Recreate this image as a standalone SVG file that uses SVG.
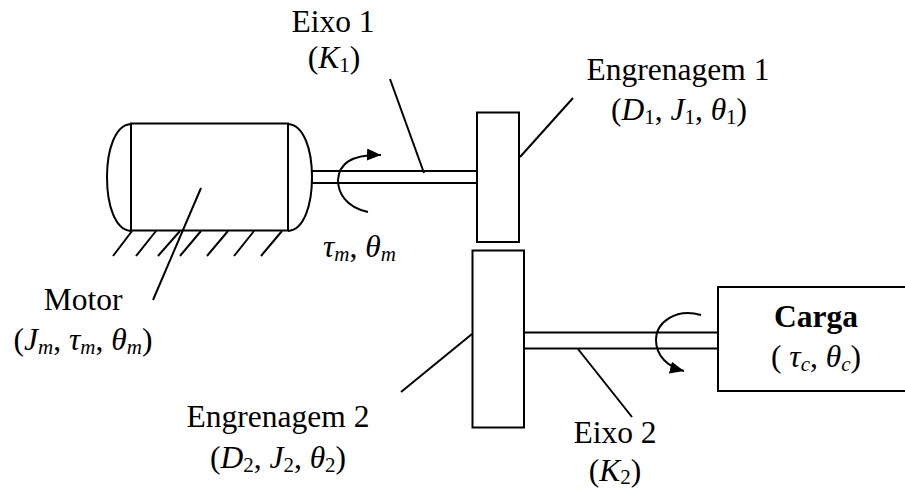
<svg xmlns="http://www.w3.org/2000/svg" width="905" height="488" viewBox="0 0 905 488">
<style>
.s{fill:none;stroke:#000;stroke-width:2}
.h{fill:#fff;stroke:#000;stroke-width:2}
text{font-family:"Liberation Serif","Times New Roman",serif;font-size:31.500px;fill:#000}
.c{text-anchor:middle}
.i{font-style:italic}
.u{font-size:21px}
.b{font-weight:bold}
</style>
<defs>
<marker id="a" markerUnits="userSpaceOnUse" markerWidth="16" markerHeight="14" refX="14" refY="6" orient="auto"><path d="M0 0L14 6L0 12Z" fill="#000"/></marker>
</defs>
<rect width="905" height="488" fill="#fff"/>
<g id="connectors">
<path class="s" d="M390 79L424 173"/>
<path class="s" d="M520 157L573 98"/>
<path class="s" d="M201 188L153 300"/>
<path class="s" d="M472 334L401 392"/>
<path class="s" d="M578 349L632 417"/>
<path class="s" d="M368 212C345 207 338 192 338 180C339 163 352 154 381 155" marker-end="url(#a)"/>
<path class="s" d="M701 315C676 308 656 322 656 340C656 356 668 367 684 371" marker-end="url(#a)"/>
</g>
<g id="motor">
<path class="s" d="M131 124C115 125 107 150 107 177C107 205 115 230 131 231"/>
<path class="s" d="M288 124C304 125 312 150 312 177C312 205 304 230 288 231"/>
<rect class="s" x="131" y="123.500" width="157" height="107"/>
<path class="s" d="M132 231L113 256M156 231L136 256M180 231L158 256M201 231L180 256M228 231L207 256M254 231L234 256M282 231L261 256"/>
</g>
<g id="eixo1"><rect class="s" x="312" y="171" width="165" height="12"/></g>
<g id="engrenagem1"><rect class="h" x="477" y="112.500" width="42" height="129.500"/></g>
<g id="engrenagem2"><rect class="h" x="472.500" y="250.500" width="51.500" height="177"/></g>
<g id="eixo2"><rect class="s" x="524" y="332.500" width="194" height="16"/></g>
<g id="carga"><rect class="s" x="718" y="287" width="200" height="104"/></g>
<g id="labels">
<text class="c" x="333" y="32">Eixo 1</text>
<text class="c" x="334" y="68">(<tspan class="i">K</tspan><tspan class="u" dy="4">1</tspan><tspan dy="-4">)</tspan></text>
<text class="c" x="678" y="80">Engrenagem 1</text>
<text class="c" x="679" y="120">(<tspan class="i">D</tspan><tspan class="u" dy="4">1</tspan><tspan dy="-4">, </tspan><tspan class="i">J</tspan><tspan class="u" dy="4">1</tspan><tspan dy="-4">, </tspan><tspan class="i">θ</tspan><tspan class="u" dy="4">1</tspan><tspan dy="-4">)</tspan></text>
<text x="323" y="257"><tspan class="i">τ</tspan><tspan class="u i" dy="4">m</tspan><tspan dy="-4">, </tspan><tspan class="i">θ</tspan><tspan class="u i" dy="4">m</tspan></text>
<text class="c" x="83" y="310">Motor</text>
<text class="c" x="83" y="350">(<tspan class="i">J</tspan><tspan class="u i" dy="4">m</tspan><tspan dy="-4">, </tspan><tspan class="i">τ</tspan><tspan class="u i" dy="4">m</tspan><tspan dy="-4">, </tspan><tspan class="i">θ</tspan><tspan class="u i" dy="4">m</tspan><tspan dy="-4">)</tspan></text>
<text class="c" x="278" y="427">Engrenagem 2</text>
<text class="c" x="278" y="468">(<tspan class="i">D</tspan><tspan class="u" dy="4">2</tspan><tspan dy="-4">, </tspan><tspan class="i">J</tspan><tspan class="u" dy="4">2</tspan><tspan dy="-4">, </tspan><tspan class="i">θ</tspan><tspan class="u" dy="4">2</tspan><tspan dy="-4">)</tspan></text>
<text class="c" x="615" y="443">Eixo 2</text>
<text class="c" x="615" y="481">(<tspan class="i">K</tspan><tspan class="u" dy="3">2</tspan><tspan dy="-3">)</tspan></text>
<text class="c b" x="816" y="327">Carga</text>
<text class="c" x="816" y="367">( <tspan class="i">τ</tspan><tspan class="u i" dy="4">c</tspan><tspan dy="-4">, </tspan><tspan class="i">θ</tspan><tspan class="u i" dy="4">c</tspan><tspan dy="-4">)</tspan></text>
</g>
</svg>
